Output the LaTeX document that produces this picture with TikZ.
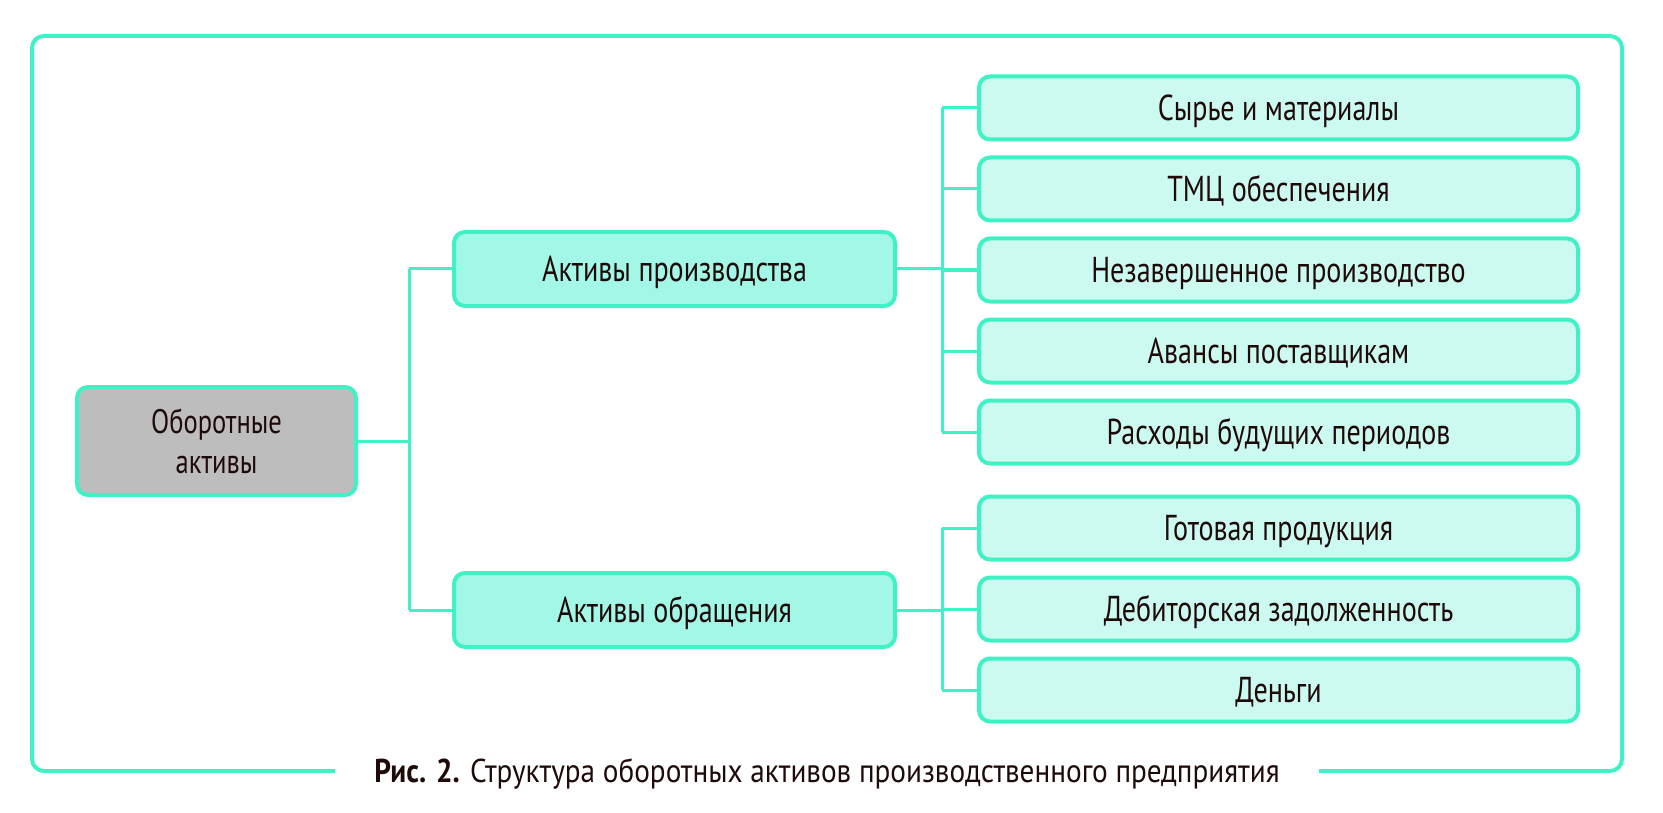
\documentclass[tikz,border=0pt]{standalone}
\usepackage{fontspec}
\setmainfont{PT Sans}[FakeStretch=0.78]
\newfontfamily\capfont{PT Sans}[FakeStretch=0.885]
\definecolor{aqua}{HTML}{3EF2C6}
\definecolor{midfill}{HTML}{A3F7E6}
\definecolor{leaffill}{HTML}{CCFAF1}
\definecolor{rootfill}{HTML}{BDBDBD}
\definecolor{ink}{HTML}{1F0A0A}
\tikzset{
  basebox/.style={draw=aqua, line width=4pt, rounded corners=11pt, inner sep=0pt,
    text=ink, align=center},
  box/.style={basebox, text height=25pt, text depth=0pt,
    font=\fontsize{36}{40}\selectfont},
  rootbox/.style={basebox, fill=rootfill, minimum width=279pt, minimum height=108pt,
    font=\fontsize{34}{40}\selectfont},
  midbox/.style={box, fill=midfill, minimum width=441pt, minimum height=74pt},
  leafbox/.style={box, fill=leaffill, minimum width=599pt, minimum height=63pt},
  conn/.style={draw=aqua, line width=3pt},
  frame/.style={draw=aqua, line width=4pt, rounded corners=12pt},
}
\begin{document}
\begin{tikzpicture}[x=1pt,y=-1pt]
\useasboundingbox (0,0) rectangle (1663,813);
\draw[frame] (335,771) -- (32,771) -- (32,36) -- (1622,36) -- (1622,771) -- (1319,771);

\node[rootbox] (root) at (216.5,441) {Оборотные\\активы};
\node[midbox] (m1) at (674.5,269) {Активы производства};
\node[midbox] (m2) at (674.5,610) {Активы обращения};

\node[leafbox] (l1) at (1278.5,108) {Сырье и материалы};
\node[leafbox] (l2) at (1278.5,189) {ТМЦ обеспечения};
\node[leafbox] (l3) at (1278.5,270) {Незавершенное производство};
\node[leafbox] (l4) at (1278.5,351) {Авансы поставщикам};
\node[leafbox] (l5) at (1278.5,432) {Расходы будущих периодов};
\node[leafbox] (l6) at (1278.5,528) {Готовая продукция};
\node[leafbox] (l7) at (1278.5,609) {Дебиторская задолженность};
\node[leafbox] (l8) at (1278.5,690) {Деньги};

\coordinate (b1) at (409,0);
\coordinate (b2) at (942,0);

\draw[conn] (root.east) -- (root.east -| b1);
\draw[conn] (m1.west -| b1) -- (m2.west -| b1);
\draw[conn] (m1.west -| b1) -- (m1.west);
\draw[conn] (m2.west -| b1) -- (m2.west);

\draw[conn] (m1.east) -- (m1.east -| b2);
\draw[conn] (l1.west -| b2) -- (l5.west -| b2);
\foreach \n in {l1,l2,l3,l4,l5} \draw[conn] (\n.west -| b2) -- (\n.west);

\draw[conn] (m2.east) -- (m2.east -| b2);
\draw[conn] (l6.west -| b2) -- (l8.west -| b2);
\foreach \n in {l6,l7,l8} \draw[conn] (\n.west -| b2) -- (\n.west);

\node[anchor=base, text=ink, font=\capfont\fontsize{33}{36}\selectfont, inner sep=0pt] (cap) at (827,782)
  {\textbf{Рис. 2.} Структура оборотных активов производственного предприятия};
\end{tikzpicture}
\end{document}
